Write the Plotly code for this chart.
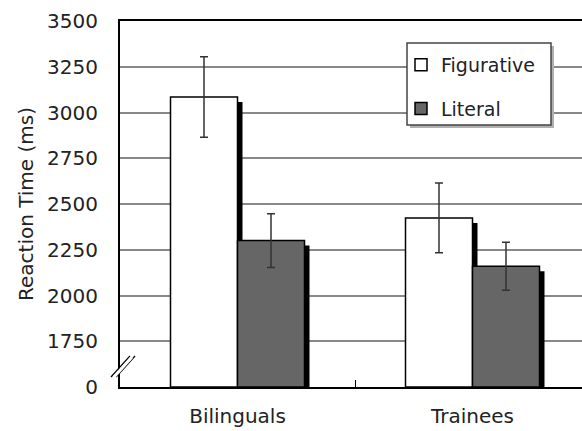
import plotly.graph_objects as go

categories = ["Bilinguals", "Trainees"]
figurative = [3085, 2424]
figurative_err = [220, 191]
literal = [2300, 2160]
literal_err = [147, 131]
tick_vals = [1500, 1750, 2000, 2250, 2500, 2750, 3000, 3250, 3500]
tick_text = ["0", "1750", "2000", "2250", "2500", "2750", "3000", "3250", "3500"]

W, H = 582, 431
L, T, B = 120, 21, 44
plot_w = W - L
plot_h = H - T - B
cat_px = 235.0
bw = 67.0 / cat_px
shadow_dx = 5.0 / cat_px
shadow_dy = 5.0 * 2000.0 / plot_h

font = "DejaVu Sans, Liberation Sans, sans-serif"
fig = go.Figure()

# shadows
for vals, off in [(figurative, -bw), (literal, 0.0)]:
    fig.add_trace(go.Bar(
        x=categories, y=[v - shadow_dy - 1500 for v in vals], base=1500,
        width=bw, offset=off + shadow_dx,
        marker=dict(color="black", line=dict(width=0)),
        showlegend=False, hoverinfo="skip"))

fig.add_trace(go.Bar(
    name="Figurative", x=categories, y=[v - 1500 for v in figurative], base=1500,
    width=bw, offset=-bw, legendgroup="a",
    marker=dict(color="white", line=dict(color="black", width=1.5)),
    error_y=dict(type="data", array=figurative_err, color="#333", thickness=1.5, width=4)))
fig.add_trace(go.Bar(
    name="Literal", x=categories, y=[v - 1500 for v in literal], base=1500,
    width=bw, offset=0.0, legendgroup="b",
    marker=dict(color="#666666", line=dict(color="black", width=1.5)),
    error_y=dict(type="data", array=literal_err, color="#333", thickness=1.5, width=4)))

def px2paper(px, py):
    return (px - L) / plot_w, (H - B - py) / plot_h

shapes = []
# legend box shadow and box
x0, y0 = px2paper(410, 46)
x1, y1 = px2paper(554, 128)
shapes.append(dict(type="rect", xref="paper", yref="paper", x0=x0, y0=y1, x1=x1, y1=y0,
                   fillcolor="#b0b0b0", line=dict(width=0), layer="above"))
x0, y0 = px2paper(407, 43)
x1, y1 = px2paper(551, 125)
shapes.append(dict(type="rect", xref="paper", yref="paper", x0=x0, y0=y1, x1=x1, y1=y0,
                   fillcolor="white", line=dict(color="#444", width=1.5), layer="above"))
# axis break mark
for dx in (0, 5):
    a = px2paper(111 + dx, 377)
    b = px2paper(130 + dx, 356)
    shapes.append(dict(type="line", xref="paper", yref="paper", x0=a[0], y0=a[1], x1=b[0], y1=b[1],
                       line=dict(color="black", width=1.3), layer="above"))
a = px2paper(114, 377)
b = px2paper(132, 357)
shapes.append(dict(type="line", xref="paper", yref="paper", x0=a[0], y0=a[1], x1=b[0], y1=b[1],
                   line=dict(color="white", width=3), layer="above"))

lx, ly = px2paper(401, 46)
fig.update_layout(
    width=W, height=H,
    margin=dict(l=L, r=0, t=T, b=B, autoexpand=False),
    paper_bgcolor="white", plot_bgcolor="white",
    barmode="overlay",
    font=dict(family=font, size=19, color="#222"),
    showlegend=True,
    legend=dict(x=lx, y=ly, xanchor="left", yanchor="top",
                bgcolor="rgba(0,0,0,0)", borderwidth=0,
                font=dict(size=19, color="#222"), tracegroupgap=16,
                itemwidth=30),
    xaxis=dict(range=[-0.5, -0.5 + plot_w / cat_px], showgrid=False,
               showline=True, linecolor="black", linewidth=2, mirror=True,
               ticks="inside", ticklen=7, tickcolor="black", tickwidth=1,
               tickson="boundaries", ticklabelstandoff=10,
               tickfont=dict(size=20)),
    yaxis=dict(range=[1500, 3500], tickvals=tick_vals, ticktext=tick_text,
               showgrid=True, gridcolor="#888", gridwidth=1.5,
               showline=True, linecolor="black", linewidth=2,
               ticks="", ticklabelstandoff=16, zeroline=False,
               tickfont=dict(size=20),
               title=dict(text="Reaction Time (ms)", font=dict(size=20), standoff=8)),
    shapes=shapes,
)
fig.write_html("out.html", config={"displayModeBar": False},
               post_script="document.body.style.margin='0';document.body.style.padding='0';document.body.style.overflow='hidden';")
